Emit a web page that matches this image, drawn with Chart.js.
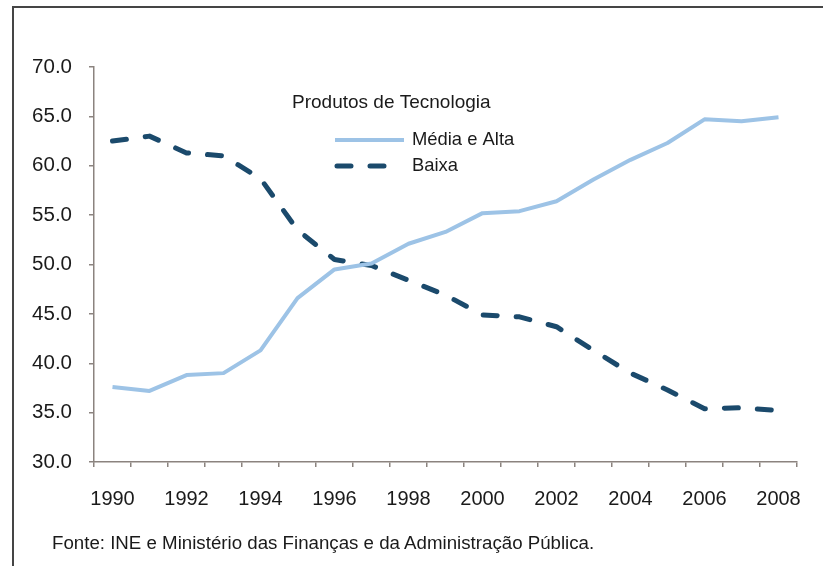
<!DOCTYPE html>
<html>
<head>
<meta charset="utf-8">
<script src="https://cdn.jsdelivr.net/npm/chart.js@4/dist/chart.umd.min.js"></script>
<style>
  html, body { margin: 0; padding: 0; background: #ffffff; }
  #wrap { position: relative; width: 823px; height: 566px; overflow: hidden; }
  #frame { position: absolute; left: 12px; top: 6px; right: -10px; bottom: -10px;
           border-top: 2px solid #454545; border-left: 2px solid #454545; }
  #footer { position: absolute; left: 52px; top: 532px; font-family: "Liberation Sans", Arial, sans-serif;
            font-size: 18.7px; line-height: 22px; color: #1a1a1a; white-space: nowrap; }
  canvas { position: absolute; left: 0; top: 0; }
</style>
</head>
<body>
<div id="wrap">
  <canvas id="c" width="823" height="566"></canvas>
  <div id="frame"></div>
  <div id="footer">Fonte: INE e Ministério das Finanças e da Administração Pública.</div>
</div>
<script>
const years = ['1990','1991','1992','1993','1994','1995','1996','1997','1998','1999',
               '2000','2001','2002','2003','2004','2005','2006','2007','2008'];
const mediaAlta = [37.6, 37.2, 38.8, 39.0, 41.3, 46.6, 49.5, 50.1, 52.1, 53.3,
                   55.2, 55.4, 56.4, 58.6, 60.6, 62.3, 64.7, 64.5, 64.9];
const baixa = [62.5, 63.0, 61.3, 61.0, 58.7, 53.5, 50.5, 49.9, 48.4, 46.9,
               44.9, 44.7, 43.7, 41.3, 39.0, 37.3, 35.4, 35.5, 35.2];
const legendTitle = 'Produtos de Tecnologia';
const seriesNames = ['Média e Alta', 'Baixa'];
const yTicks = [30, 35, 40, 45, 50, 55, 60, 65, 70];

const FONT = '"Liberation Sans", Arial, sans-serif';
const AXIS = '#8b837f';
const TEXT = '#1a1a1a';

const legendPlugin = {
  id: 'insideLegend',
  afterDraw(chart) {
    const ctx = chart.ctx;
    ctx.save();
    ctx.fillStyle = TEXT;
    ctx.textBaseline = 'middle';
    ctx.textAlign = 'left';
    ctx.font = '19px ' + FONT;
    ctx.fillText(legendTitle, 292, 103);
    ctx.font = '18.4px ' + FONT;
    const rows = [140, 166];
    const ends = [404, 384];
    chart.data.datasets.forEach((ds, i) => {
      const y = rows[i];
      ctx.beginPath();
      ctx.strokeStyle = ds.borderColor;
      ctx.lineWidth = ds.borderWidth;
      ctx.lineCap = ds.borderCapStyle || 'butt';
      ctx.setLineDash(ds.borderDash || []);
      ctx.moveTo(i === 0 ? 335 : 337, y);
      ctx.lineTo(ends[i], y);
      ctx.stroke();
      ctx.setLineDash([]);
      ctx.fillStyle = TEXT;
      ctx.fillText(ds.label, 412, y);
    });
    ctx.restore();
  }
};

new Chart(document.getElementById('c'), {
  type: 'line',
  data: {
    labels: years,
    datasets: [
      { label: seriesNames[0], data: mediaAlta, borderColor: '#9dc3e6', borderWidth: 4,
        pointRadius: 0, tension: 0, fill: false, borderJoinStyle: 'round' },
      { label: seriesNames[1], data: baixa, borderColor: '#1b4a6c', borderWidth: 5,
        borderDash: [14, 19], borderCapStyle: 'round', pointRadius: 0, tension: 0, fill: false,
        borderJoinStyle: 'round' }
    ]
  },
  options: {
    responsive: false,
    animation: false,
    devicePixelRatio: 1,
    layout: { padding: { left: 0, top: 67, right: 26, bottom: 0 } },
    plugins: { legend: { display: false }, tooltip: { enabled: false }, title: { display: false } },
    scales: {
      x: {
        type: 'category',
        offset: true,
        border: { display: true, color: AXIS, width: 1.5 },
        grid: { display: true, offset: true, drawOnChartArea: false, drawTicks: true,
                tickLength: 5, color: AXIS, lineWidth: 1.5 },
        ticks: { color: TEXT, font: { family: FONT, size: 20 }, padding: 20,
                 autoSkip: false, maxRotation: 0,
                 callback: function(v, i) { return i % 2 === 0 ? years[i] : ''; } },
        afterFit(s) { s.height = 104; }
      },
      y: {
        min: 30, max: 70,
        border: { display: true, color: AXIS, width: 1.5 },
        grid: { display: true, drawOnChartArea: false, drawTicks: true, tickLength: 5,
                color: AXIS, lineWidth: 1.5 },
        afterBuildTicks(s) { s.ticks = yTicks.map(v => ({ value: v })); },
        ticks: { color: TEXT, font: { family: FONT, size: 20.5 }, padding: 17,
                 callback: v => Number(v).toFixed(1) },
        afterFit(s) { s.width = 94; }
      }
    }
  },
  plugins: [legendPlugin]
});
</script>
</body>
</html>
